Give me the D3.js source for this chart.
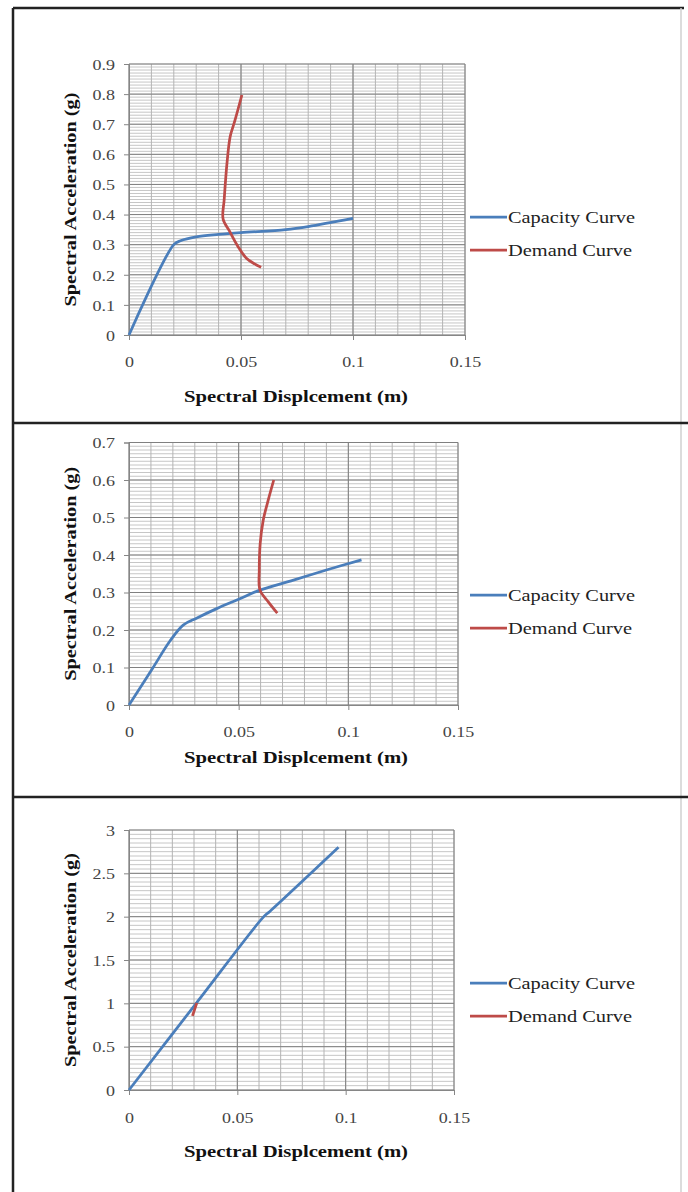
<!DOCTYPE html>
<meta charset="utf-8">
<script src="https://cdn.jsdelivr.net/npm/d3@7"></script>
<style>
  body { margin: 0; background: #fff; }
  text { font-family: "Liberation Serif", "Times New Roman", serif; }
</style>
<body>
<script>

// chart values
var capacity1 = [[0, 0], [0.02, 0.30], [0.023, 0.313], [0.03, 0.326], [0.04, 0.334], [0.05, 0.34], [0.07, 0.35], [0.08, 0.36], [0.1, 0.387]]
var demand1 = [[0.0504, 0.797], [0.0472, 0.71], [0.0452, 0.66], [0.0438, 0.575], [0.0425, 0.45], [0.042, 0.385], [0.045, 0.343], [0.0487, 0.293], [0.0524, 0.255], [0.0561, 0.236], [0.059, 0.225]]

var capacity2 = [[0, 0], [0.011, 0.10], [0.0186, 0.17], [0.0247, 0.213], [0.031, 0.232], [0.04, 0.257], [0.05, 0.282], [0.059, 0.305], [0.075, 0.333], [0.09, 0.36], [0.106, 0.387]]
var demand2 = [[0.066, 0.60], [0.0635, 0.547], [0.0612, 0.493], [0.0598, 0.43], [0.0594, 0.36], [0.0597, 0.307], [0.0635, 0.275], [0.0676, 0.245]]

var capacity3 = [[0, 0], [0.031, 1.0], [0.0622, 2.0], [0.065, 2.06], [0.0967, 2.8]]
var demand3 = [[0.0293, 0.855], [0.0313, 1.005]]

var xTicks = [0, 0.05, 0.1, 0.15]
var yTicks1 = [0, 0.1, 0.2, 0.3, 0.4, 0.5, 0.6, 0.7, 0.8, 0.9]
var yTicks2 = [0, 0.1, 0.2, 0.3, 0.4, 0.5, 0.6, 0.7]
var yTicks3 = [0, 0.5, 1, 1.5, 2, 2.5, 3]

var seriesNames = ["Capacity Curve", "Demand Curve"]
var xTitle = "Spectral Displcement (m)"
var yTitle = "Spectral Acceleration (g)"

var colors = ["#4a7ebb", "#be4b48"]

var width = 688
var height = 1192

var svg = d3.select("body").append("svg")
            .attr("width", width)
            .attr("height", height)

// frame around the three panels
svg.append("line").attr("x1", 13).attr("x2", 13).attr("y1", 8).attr("y2", height)
   .attr("stroke", "#222").attr("stroke-width", 2.5)
svg.append("line").attr("x1", 13).attr("x2", 684).attr("y1", 8).attr("y2", 8)
   .attr("stroke", "#222").attr("stroke-width", 2.5)
svg.append("line").attr("x1", 681).attr("x2", 681).attr("y1", 8).attr("y2", height)
   .attr("stroke", "#d0d0d0").attr("stroke-width", 1.5)
svg.append("line").attr("x1", 13).attr("x2", width).attr("y1", 423).attr("y2", 423)
   .attr("stroke", "#222").attr("stroke-width", 2.5)
svg.append("line").attr("x1", 13).attr("x2", width).attr("y1", 797).attr("y2", 797)
   .attr("stroke", "#222").attr("stroke-width", 2.5)

var panels = [
  { cap: capacity1, dem: demand1, yTicks: yTicks1, yMax: 0.9, yStep: 0.1, x0: 129, x1: 465, y0: 335, y1: 64, tickY: 367, titleY: 402, legY: 217 },
  { cap: capacity2, dem: demand2, yTicks: yTicks2, yMax: 0.7, yStep: 0.1, x0: 129, x1: 458, y0: 705, y1: 442.5, tickY: 737, titleY: 763, legY: 595 },
  { cap: capacity3, dem: demand3, yTicks: yTicks3, yMax: 3, yStep: 0.5, x0: 129, x1: 454, y0: 1090, y1: 830, tickY: 1123, titleY: 1157, legY: 983 }
]

function widen(sel, k) {
  sel.each(function() {
    var n = this.getComputedTextLength()
    d3.select(this).attr("textLength", n * k).attr("lengthAdjust", "spacingAndGlyphs")
  })
}

function drawPanel(p) {
  var x = d3.scaleLinear().domain([0, 0.15]).range([p.x0, p.x1])
  var y = d3.scaleLinear().domain([0, p.yMax]).range([p.y0, p.y1])
  var g = svg.append("g")

  // minor grid
  var yMinor = d3.range(0, Math.round(p.yMax / p.yStep * 10) + 1).map(function(i) { return i * p.yStep / 10 })
  var xMinor = d3.range(0, 16).map(function(i) { return i * 0.01 })
  g.selectAll(".hminor").data(yMinor).enter().append("line")
   .attr("x1", p.x0).attr("x2", p.x1)
   .attr("y1", function(d) { return y(d) }).attr("y2", function(d) { return y(d) })
   .attr("stroke", "#c6c6c6").attr("stroke-width", 1)
  g.selectAll(".vminor").data(xMinor).enter().append("line")
   .attr("y1", p.y0).attr("y2", p.y1)
   .attr("x1", function(d) { return x(d) }).attr("x2", function(d) { return x(d) })
   .attr("stroke", "#b4b4b4").attr("stroke-width", 1)

  // major grid
  g.selectAll(".hmajor").data(p.yTicks).enter().append("line")
   .attr("x1", p.x0).attr("x2", p.x1)
   .attr("y1", function(d) { return y(d) }).attr("y2", function(d) { return y(d) })
   .attr("stroke", "#808080").attr("stroke-width", 1)
  g.selectAll(".vmajor").data(xTicks).enter().append("line")
   .attr("y1", p.y0).attr("y2", p.y1)
   .attr("x1", function(d) { return x(d) }).attr("x2", function(d) { return x(d) })
   .attr("stroke", "#808080").attr("stroke-width", 1)

  // axes
  var fmt = function(d) { return String(+d.toFixed(2)) }
  var ya = g.append("g").attr("transform", "translate(" + p.x0 + ",0)")
            .call(d3.axisLeft(y).tickValues(p.yTicks).tickSize(5).tickPadding(9).tickFormat(fmt))
  var xa = g.append("g").attr("transform", "translate(0," + p.y0 + ")")
            .call(d3.axisBottom(x).tickValues(xTicks).tickSize(5).tickSizeOuter(5).tickFormat(fmt))
  ;[ya, xa].forEach(function(a) {
    a.select(".domain").attr("stroke", "#868686")
    a.selectAll(".tick line").attr("stroke", "#868686")
    a.selectAll("text").attr("fill", "#444").style("font-size", "15px").style("font-family", "Liberation Serif")
    widen(a.selectAll("text"), 1.2)
  })
  xa.selectAll("text").attr("y", null).attr("dy", null)
    .attr("transform", "translate(0," + (p.tickY - p.y0) + ")")
  ya.selectAll("text").attr("dy", "0.35em")

  // series
  var line = d3.line().x(function(d) { return x(d[0]) }).y(function(d) { return y(d[1]) })
               .curve(d3.curveCatmullRom.alpha(0.5))
  g.append("path").attr("d", line(p.cap)).attr("fill", "none")
   .attr("stroke", colors[0]).attr("stroke-width", 2.75)
  g.append("path").attr("d", line(p.dem)).attr("fill", "none")
   .attr("stroke", colors[1]).attr("stroke-width", 2.75)

  // titles
  g.append("text").attr("x", 296).attr("y", p.titleY)
   .attr("text-anchor", "middle").attr("font-weight", "bold").attr("font-size", 17)
   .attr("textLength", 224).attr("lengthAdjust", "spacingAndGlyphs")
   .attr("fill", "#111").text(xTitle)
  g.append("text")
   .attr("transform", "translate(76," + ((p.y0 + p.y1) / 2) + ") rotate(-90)")
   .attr("text-anchor", "middle").attr("font-weight", "bold").attr("font-size", 17)
   .attr("textLength", 214).attr("lengthAdjust", "spacingAndGlyphs")
   .attr("fill", "#111").text(yTitle)

  // legend
  seriesNames.forEach(function(name, i) {
    var ly = p.legY + i * 33
    g.append("line").attr("x1", 470).attr("x2", 507).attr("y1", ly).attr("y2", ly)
     .attr("stroke", colors[i]).attr("stroke-width", 2.75)
    g.append("text").attr("x", 508).attr("y", ly + 6).attr("font-size", 17)
     .attr("textLength", i == 0 ? 127 : 124).attr("lengthAdjust", "spacingAndGlyphs")
     .attr("fill", "#222").text(name)
  })
}

panels.forEach(drawPanel)

</script>
</body>
